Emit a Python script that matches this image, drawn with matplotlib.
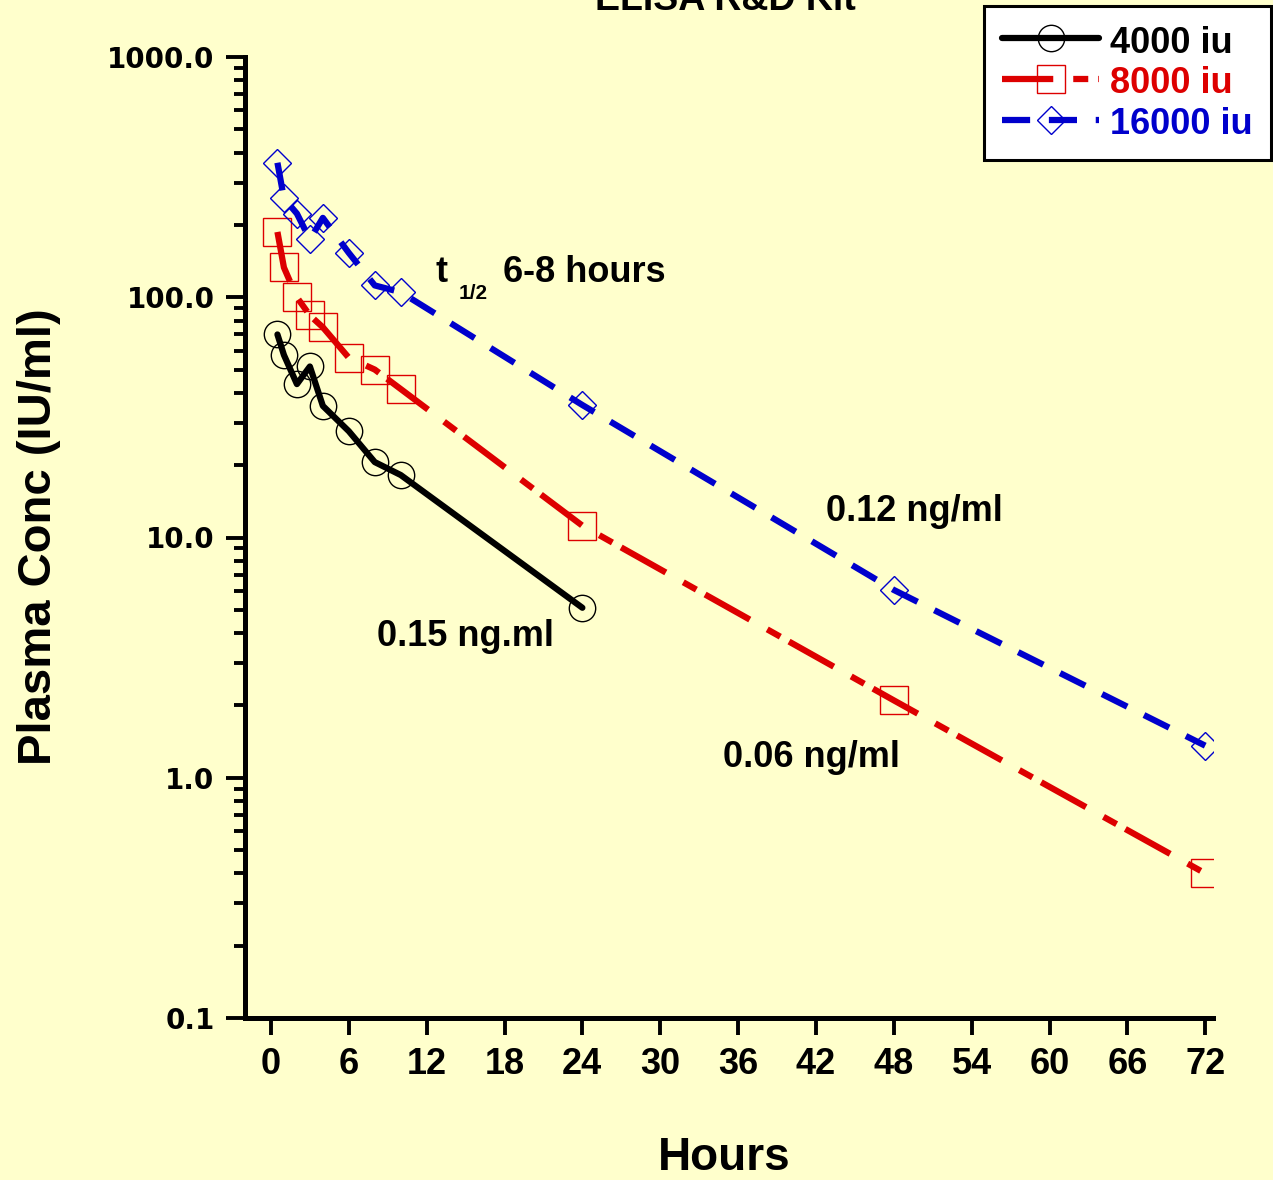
import matplotlib
matplotlib.use("Agg")
import matplotlib.pyplot as plt
from matplotlib import font_manager
from matplotlib.ticker import FixedLocator, LogLocator, NullFormatter

# ---- data ----
hours_4000 = [0.5, 1, 2, 3, 4, 6, 8, 10, 24]
conc_4000 = [70, 57.5, 43.5, 51.5, 35.3, 27.7, 20.6, 18.2, 5.1]
hours_8000 = [0.5, 1, 2, 3, 4, 6, 8, 10, 24, 48, 72]
conc_8000 = [187, 133, 100, 84, 75, 56, 50, 41.5, 11.2, 2.1, 0.40]
hours_16000 = [0.5, 1, 2, 3, 4, 6, 8, 10, 24, 48, 72]
conc_16000 = [363, 258, 223, 174, 214, 153, 112, 105, 35.6, 6.05, 1.36]
series_labels = ["4000 iu", "8000 iu", "16000 iu"]
x_ticks = [0, 6, 12, 18, 24, 30, 36, 42, 48, 54, 60, 66, 72]
y_ticks = [0.1, 1, 10, 100, 1000]
y_ticklabels = ["0.1", "1.0", "10.0", "100.0", "1000.0"]

BG = "#FFFFCC"
RED = "#DD0000"
BLUE = "#0000CC"

avail = {f.name for f in font_manager.fontManager.ttflist}
main_font = "Liberation Sans" if "Liberation Sans" in avail else "DejaVu Sans"
narrow_font, ylab_size = main_font, 34
for cand, sz in [("Liberation Sans Narrow", 36), ("DejaVu Sans Condensed", 32)]:
    if cand in avail:
        narrow_font, ylab_size = cand, sz
        break
plt.rcParams["font.family"] = main_font

W, H = 1273, 1180
fig = plt.figure(figsize=(W / 100, H / 100), dpi=100, facecolor=BG)
ax_l, ax_r, ax_t, ax_b = 245, 1213, 57, 1018
ax = fig.add_axes([ax_l / W, 1 - ax_b / H, (ax_r - ax_l) / W, (ax_b - ax_t) / H])
ax.set_facecolor(BG)

lw = 4.5
ax.plot(hours_4000, conc_4000, color="black", lw=lw, solid_capstyle="round",
        marker="o", ms=19, mfc="none", mec="black", mew=1.0, label=series_labels[0])
ax.plot(hours_8000, conc_8000, color=RED, lw=lw, dash_capstyle="butt",
        dashes=(8.2, 3.2, 2.4, 1.6), marker="s", ms=19.5, mfc="none", mec=RED, mew=1.0,
        label=series_labels[1])
ax.plot(hours_16000, conc_16000, color=BLUE, lw=lw, dash_capstyle="butt",
        dashes=(4.5, 3.0), marker="D", ms=14.5, mfc="none", mec=BLUE, mew=1.0,
        label=series_labels[2])

ax.set_yscale("log")
ax.set_ylim(0.1, 1000)
ax.set_xlim(-2.0, 72.6)

ax.xaxis.set_major_locator(FixedLocator(x_ticks))
ax.set_xticklabels([str(t) for t in x_ticks])
ax.yaxis.set_major_locator(FixedLocator(y_ticks))
ax.set_yticklabels(y_ticklabels)
ax.yaxis.set_minor_locator(LogLocator(base=10, subs=range(2, 10)))
ax.yaxis.set_minor_formatter(NullFormatter())

for s in ["top", "right"]:
    ax.spines[s].set_visible(False)
for s in ["left", "bottom"]:
    ax.spines[s].set_linewidth(3.6)
ax.tick_params(axis="x", which="major", length=12, width=2.8, pad=9, labelsize=26)
ax.tick_params(axis="y", which="major", length=14, width=2.8, pad=8, labelsize=20)
ax.tick_params(axis="y", which="minor", length=8, width=2.8)
for lab in ax.get_xticklabels():
    lab.set_fontweight("bold")
for lab in ax.get_yticklabels():
    lab.set_fontweight("bold")
    lab.set_family("DejaVu Sans")

ax.set_xlabel("Hours", fontsize=33, fontweight="bold")
ax.xaxis.set_label_coords(0.5 + (724 - (ax_l + ax_r) / 2) / (ax_r - ax_l),
                          -(1158 - ax_b) / (ax_b - ax_t))
ax.xaxis.label.set_va("center")
ax.set_ylabel("Plasma Conc (IU/ml)", fontsize=ylab_size, fontweight="bold",
              family=narrow_font)
ax.yaxis.set_label_coords(-(ax_l - 39) / (ax_r - ax_l),
                          0.5 + ((ax_b + ax_t) / 2 - 537) / (ax_b - ax_t))
ax.yaxis.label.set_va("center")

# annotations
ax.text(12.7, 127, "t", fontsize=26, fontweight="bold", va="center", ha="left")
ax.text(14.5, 104, "1/2", fontsize=15, fontweight="bold", va="center", ha="left")
ax.text(17.9, 127, "6-8 hours", fontsize=26, fontweight="bold", va="center", ha="left")
ax.text(42.8, 12.8, "0.12 ng/ml", fontsize=26, fontweight="bold", va="center", ha="left")
ax.text(8.2, 3.86, "0.15 ng.ml", fontsize=26, fontweight="bold", va="center", ha="left")
ax.text(34.8, 1.22, "0.06 ng/ml", fontsize=26, fontweight="bold", va="center", ha="left")

fig.text(725 / W, 1 - 10 / H, "ELISA R&D Kit", fontsize=27, fontweight="bold",
         ha="center", va="baseline")

leg = fig.legend(loc="upper right", bbox_to_anchor=(1271 / W, 1 - 6 / H),
                 prop={"size": 26, "weight": "bold"}, frameon=True, fancybox=False,
                 edgecolor="black", facecolor="white", framealpha=1,
                 handlelength=2.7, handleheight=1.0, handletextpad=0.3,
                 labelspacing=0.12, borderpad=0.5, borderaxespad=0)
leg.get_frame().set_linewidth(2.2)
for txt, c in zip(leg.get_texts(), ["black", RED, BLUE]):
    txt.set_color(c)

fig.savefig("out.png", dpi=100, facecolor=BG)
